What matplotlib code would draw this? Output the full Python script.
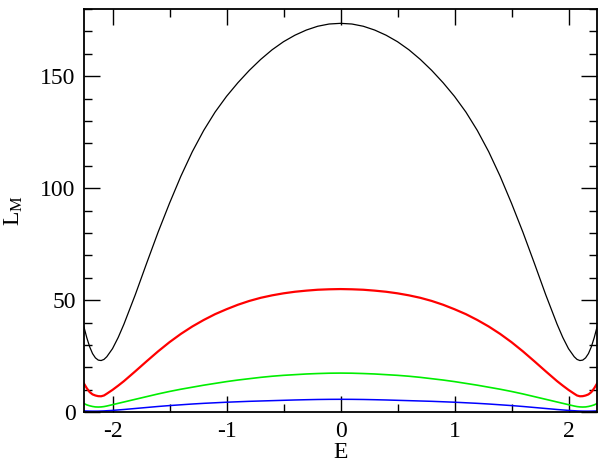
import matplotlib
matplotlib.use("Agg")
import matplotlib.pyplot as plt
from matplotlib.ticker import MultipleLocator

plt.rcParams['font.family'] = ['Liberation Serif', 'DejaVu Serif']
plt.rcParams['mathtext.fontset'] = 'custom'
plt.rcParams['mathtext.rm'] = 'Liberation Serif'
plt.rcParams['mathtext.it'] = 'Liberation Serif:italic'
plt.rcParams['axes.unicode_minus'] = False

E = [-2.25, -2.225, -2.2, -2.175, -2.15, -2.125, -2.1, -2.075, -2.05, -2.0, -1.95,
     -1.9, -1.8, -1.7, -1.6, -1.5, -1.4, -1.3, -1.2, -1.1, -1.0,
     -0.9, -0.8, -0.7, -0.6, -0.5, -0.4, -0.3, -0.2, -0.1,
     0.0,
     0.1, 0.2, 0.3, 0.4, 0.5, 0.6, 0.7, 0.8, 0.9,
     1.0, 1.1, 1.2, 1.3, 1.4, 1.5, 1.6, 1.7, 1.8, 1.9,
     1.95, 2.0, 2.05, 2.075, 2.1, 2.125, 2.15, 2.175, 2.2, 2.225, 2.25]

L_black = [38.0, 33.2, 29.2, 26.2, 24.3, 23.3, 23.1, 23.6, 24.8, 28.4, 33.4,
           39.3, 52.5, 66.6, 80.4, 93.3, 105.4, 116.3, 125.8, 134.0, 141.0,
           147.1, 152.6, 157.5, 161.8, 165.4, 168.3, 170.6, 172.3, 173.3,
           173.6,
           173.3, 172.3, 170.6, 168.3, 165.4, 161.8, 157.5, 152.6, 147.1,
           141.0, 134.0, 125.8, 116.3, 105.4, 93.3, 80.4, 66.6, 52.5, 39.3,
           33.4, 28.4, 24.8, 23.6, 23.1, 23.3, 24.3, 26.2, 29.2, 33.2, 38.0]

L_red = [12.8, 10.7, 9.0, 8.0, 7.5, 7.2, 7.15, 7.5, 8.3, 10.0, 11.9,
         13.9, 18.3, 22.8, 27.2, 31.3, 35.0, 38.3, 41.2, 43.8, 46.0,
         48.0, 49.7, 51.1, 52.2, 53.1, 53.8, 54.3, 54.7, 54.9,
         55.0,
         54.9, 54.7, 54.3, 53.8, 53.1, 52.2, 51.1, 49.7, 48.0,
         46.0, 43.8, 41.2, 38.3, 35.0, 31.3, 27.2, 22.8, 18.3, 13.9,
         11.9, 10.0, 8.3, 7.5, 7.15, 7.2, 7.5, 8.0, 9.0, 10.7, 12.8]

L_green = [3.9, 3.3, 2.9, 2.6, 2.4, 2.35, 2.4, 2.55, 2.8, 3.4, 4.0,
           4.6, 5.8, 7.0, 8.2, 9.3, 10.3, 11.2, 12.1, 12.9, 13.7,
           14.4, 15.0, 15.6, 16.1, 16.5, 16.8, 17.1, 17.3, 17.45,
           17.5,
           17.45, 17.3, 17.1, 16.8, 16.5, 16.1, 15.6, 15.0, 14.4,
           13.7, 12.9, 12.1, 11.2, 10.3, 9.3, 8.2, 7.0, 5.8, 4.6,
           4.0, 3.4, 2.8, 2.55, 2.4, 2.35, 2.4, 2.6, 2.9, 3.3, 3.9]

L_blue = [0.62, 0.57, 0.54, 0.52, 0.52, 0.53, 0.57, 0.62, 0.7, 0.85, 1.05,
          1.25, 1.7, 2.15, 2.6, 3.0, 3.35, 3.7, 4.0, 4.25, 4.5,
          4.7, 4.9, 5.05, 5.2, 5.35, 5.5, 5.62, 5.72, 5.78,
          5.8,
          5.78, 5.72, 5.62, 5.5, 5.35, 5.2, 5.05, 4.9, 4.7,
          4.5, 4.25, 4.0, 3.7, 3.35, 3.0, 2.6, 2.15, 1.7, 1.25,
          1.05, 0.85, 0.7, 0.62, 0.57, 0.53, 0.52, 0.52, 0.54, 0.57, 0.62]

fig = plt.figure(figsize=(6.03, 4.69), dpi=100)
ax = fig.add_axes([84/603, 1 - 412.3/469, (597 - 84)/603, (412.3 - 9)/469])

ax.plot(E, L_black, color='black', lw=0.9)
ax.plot(E, L_red, color='#ff0000', lw=1.6)
ax.plot(E, L_green, color='#00ee00', lw=1.2)
ax.plot(E, L_blue, color='#0000ff', lw=1.1)

ax.set_xlim(-2.25, 2.25)
ax.set_ylim(0, 180)
ax.xaxis.set_major_locator(MultipleLocator(1))
ax.xaxis.set_minor_locator(MultipleLocator(0.5))
ax.yaxis.set_major_locator(MultipleLocator(50))
ax.yaxis.set_minor_locator(MultipleLocator(10))

ax.tick_params(which='both', direction='in', top=True, right=True, width=1.0,
               labelsize=17, colors='black')
ax.tick_params(which='major', length=11.5, pad=6)
ax.tick_params(which='minor', length=5.5)
for s in ax.spines.values():
    s.set_linewidth(1.3)

ax.set_xlabel('E', fontsize=17, labelpad=0)
ax.set_ylabel(r'L$_{\rm M}$', fontsize=17, labelpad=11)

fig.savefig('out.png', dpi=100)
